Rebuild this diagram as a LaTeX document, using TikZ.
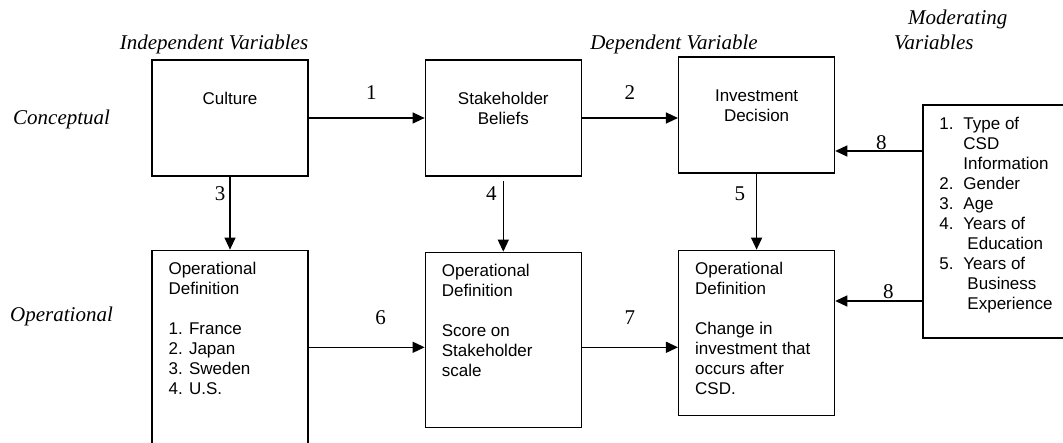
\documentclass[tikz,border=0pt]{standalone}
\usepackage{fontspec}
\setmainfont{Liberation Serif}
\setsansfont{Liberation Sans}
\usetikzlibrary{arrows.meta,positioning}

\begin{document}
\begin{tikzpicture}[x=1pt, y=-1pt, >={Triangle[length=12pt,width=11pt]},
    varbox/.style={draw, line width=1.3pt, minimum width=156pt, minimum height=116pt, inner sep=0pt},
    boxtext/.style={font=\sffamily\fontsize{17}{20}\selectfont, inner sep=0pt},
    head/.style={font=\itshape\fontsize{21}{25}\selectfont, inner sep=0pt},
    num/.style={font=\fontsize{21}{25}\selectfont, inner sep=0pt},
    link/.style={->, line width=1.2pt}]
    \path[use as bounding box, clip] (0,0) rectangle (1063,443);
    % Headings
    \node[head, anchor=base] (indephead) at (214,50) {Independent Variables};
    \node[head, anchor=base] (dephead) at (674,50) {Dependent Variable};
    \node[head, anchor=south west, align=left] (modhead) at (894,50) {\hspace*{14pt}Moderating\\Variables};
    \node[head, anchor=base west] (conchead) at (13,125) {Conceptual};
    \node[head, anchor=base west] (ophead) at (10,322) {Operational};
    % Conceptual row
    \node[varbox, label={[boxtext, anchor=base, yshift=-45.5pt]north:Culture}] (culture) at (230,118) {};
    \node[varbox, right=116pt of culture, label={[boxtext, anchor=base, yshift=-45.5pt]north:{\parbox[t]{150pt}{\centering Stakeholder\\Beliefs}}}] (beliefs) {};
    \node[varbox, right=96pt of beliefs, yshift=3pt, label={[boxtext, anchor=base, yshift=-45.5pt]north:{\parbox[t]{150pt}{\centering Investment\\Decision}}}] (decision) {};
    % Moderators
    \node[varbox, minimum width=142pt, minimum height=233pt, below right=48pt and 87pt of decision.north east,
        label={[boxtext, anchor=base west, xshift=17pt, yshift=-25pt]north west:{\parbox[t]{130pt}{\raggedright
        \makebox[24pt][l]{1.}Type of\\ \hspace*{24pt}CSD\\ \hspace*{24pt}Information\\
        \makebox[24pt][l]{2.}Gender\\ \makebox[24pt][l]{3.}Age\\
        \makebox[24pt][l]{4.}Years of\\ \hspace*{28pt}Education\\
        \makebox[24pt][l]{5.}Years of\\ \hspace*{28pt}Business\\ \hspace*{28pt}Experience}}}] (moderating) {};
    % Operational row
    \node[varbox, minimum height=220pt, below=73pt of culture,
        label={[boxtext, anchor=base west, xshift=17pt, yshift=-25pt]north west:{\parbox[t]{130pt}{\raggedright Operational\\Definition\\[20pt]1. France\\2. Japan\\3. Sweden\\4. U.S.}}}] (opculture) {};
    \node[varbox, minimum height=175pt, below=75pt of beliefs,
        label={[boxtext, anchor=base west, xshift=17pt, yshift=-25pt]north west:{\parbox[t]{130pt}{\raggedright Operational\\Definition\\[20pt]Score on\\Stakeholder\\scale}}}] (opbeliefs) {};
    \node[varbox, minimum height=165pt, below=76pt of decision,
        label={[boxtext, anchor=base west, xshift=17pt, yshift=-25pt]north west:{\parbox[t]{130pt}{\raggedright Operational\\Definition\\[20pt]Change in\\investment that\\occurs after\\CSD.}}}] (opdecision) {};

    % Arrows
    \draw[link] (culture) -- (beliefs) node[num, pos=0.54, yshift=25pt] {1};
    \draw[link] (beliefs) -- (beliefs -| decision.west) node[num, midway, yshift=25pt] {2};
    \draw[link] (culture.south) -- (opculture.north) node[num, pos=0.23, left=4pt] {3};
    \draw[link, shorten <=4pt] (beliefs.south) -- (opbeliefs.north) node[num, pos=0.22, left=6pt] {4};
    \draw[link] (decision.south) -- (opdecision.north) node[num, pos=0.26, left=11pt] {5};
    \coordinate (oprow) at ([yshift=-7.5pt]opbeliefs.west);
    \draw[link] (opculture.east |- oprow) -- (oprow) node[num, pos=0.62, yshift=30pt] {6};
    \draw[link] (opbeliefs.east |- oprow) -- (oprow -| opdecision.west) node[num, midway, yshift=30pt] {7};
    \coordinate (mod1) at ([yshift=70.5pt]moderating.west);
    \coordinate (mod2) at ([yshift=-79.5pt]moderating.west);
    \draw[link] (mod1) -- (mod1 -| decision.east) node[num, pos=0.47, above=1pt] {8};
    \draw[link] (mod2) -- (mod2 -| opdecision.east) node[num, pos=0.39, above=2pt] {8};
\end{tikzpicture}
\end{document}
